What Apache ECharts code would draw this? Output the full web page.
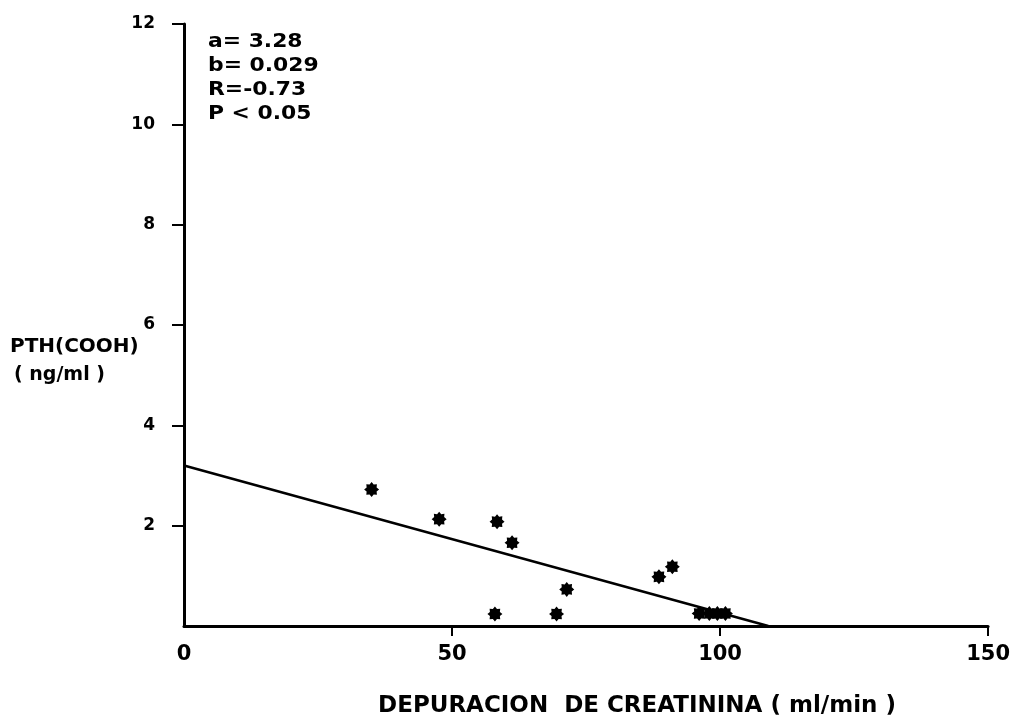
<!DOCTYPE html>
<html>
<head>
<meta charset="utf-8">
<script src="https://cdn.jsdelivr.net/npm/echarts@6/dist/echarts.min.js"></script>
<style>
html,body{margin:0;padding:0;background:#fff;overflow:hidden;}
#chart{width:1013px;height:717px;}
</style>
</head>
<body>
<div id="chart"></div>
<script>
// Data
var clearance = [35.0, 47.6, 58.4, 61.2, 58.0, 69.5, 71.4, 88.6, 91.1, 96.1, 98.0, 99.5, 101.0];
var pth       = [2.72, 2.13, 2.08, 1.66, 0.24, 0.24, 0.73, 0.98, 1.18, 0.25, 0.25, 0.25, 0.25];
var fitX = [0, 109];
var fitY = [3.2, 0];
var xTicks = [0, 50, 100, 150];
var yTicks = [2, 4, 6, 8, 10, 12];
var statsLines = ['a= 3.28', 'b= 0.029', 'R=-0.73', 'P < 0.05'];
var xTitle = 'DEPURACION  DE CREATININA ( ml/min )';
var yTitle = ['PTH(COOH)', '( ng/ml )'];

var FONT = 'DejaVu Sans';

// star-shaped marker path
function starPath(n, r1, r2) {
  var p = [];
  for (var i = 0; i < n * 2; i++) {
    var r = i % 2 === 0 ? r1 : r2;
    var a = Math.PI * i / n - Math.PI / 2;
    p.push((50 + r * Math.cos(a)).toFixed(2) + ' ' + (50 + r * Math.sin(a)).toFixed(2));
  }
  return 'path://M' + p.join(' L') + ' Z';
}

var pts = clearance.map(function (x, i) { return [x, pth[i]]; });
var fit = fitX.map(function (x, i) { return [x, fitY[i]]; });

var chart = echarts.init(document.getElementById('chart'));
chart.setOption({
  backgroundColor: '#fff',
  animation: false,
  grid: { left: 184, right: 23, top: 24, bottom: 91, containLabel: false },
  xAxis: {
    type: 'value', min: 0, max: 150, interval: 50,
    axisLine: { show: true, onZero: false, lineStyle: { color: '#000', width: 3 } },
    axisTick: { show: true, length: 10, customValues: xTicks.filter(function (v) { return v > 0; }), lineStyle: { color: '#000', width: 2 } },
    axisLabel: { margin: 18, customValues: xTicks, fontFamily: FONT, fontWeight: 'bold', fontSize: 21, color: '#000' },
    splitLine: { show: false }
  },
  yAxis: {
    type: 'value', min: 0, max: 12, interval: 2,
    axisLine: { show: true, onZero: false, lineStyle: { color: '#000', width: 3 } },
    axisTick: { show: true, length: 12, customValues: yTicks, lineStyle: { color: '#000', width: 2 } },
    axisLabel: { margin: 29, customValues: yTicks, fontFamily: FONT, fontWeight: 'bold', fontSize: 17, color: '#000', padding: [0, 0, 9, 0] },
    splitLine: { show: false }
  },
  graphic: [
    {
      type: 'text', x: 208, y: 30, scaleX: 1.15,
      style: { text: statsLines.join('\n'), font: 'bold 19px "' + FONT + '"', lineHeight: 24, fill: '#000', verticalAlign: 'top' }
    },
    {
      type: 'text', x: 10, y: 337,
      style: { text: yTitle[0], font: 'bold 20px "' + FONT + '"', fill: '#000', verticalAlign: 'top' }
    },
    {
      type: 'text', x: 14, y: 366,
      style: { text: yTitle[1], font: 'bold 19px "' + FONT + '"', fill: '#000', verticalAlign: 'top' }
    },
    {
      type: 'text', x: 637, y: 695,
      style: { text: xTitle, font: 'bold 23px "' + FONT + '"', fill: '#000', align: 'center', verticalAlign: 'top' }
    }
  ],
  series: [
    {
      type: 'line', data: fit, symbol: 'none', silent: true,
      lineStyle: { color: '#000', width: 2.5 }, z: 2
    },
    {
      type: 'scatter', data: pts, symbol: starPath(8, 50, 36), symbolSize: 15,
      itemStyle: { color: '#000', opacity: 1 }, z: 3
    }
  ]
});
</script>
</body>
</html>
